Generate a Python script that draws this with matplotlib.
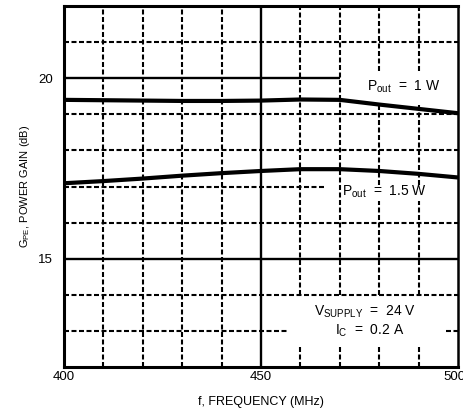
import matplotlib
matplotlib.use("Agg")
import matplotlib.pyplot as plt
from matplotlib import font_manager
from matplotlib.transforms import ScaledTranslation

names = {f.name for f in font_manager.fontManager.ttflist}
fam = ['Liberation Sans Narrow', 'Liberation Sans', 'DejaVu Sans']
fam = [f for f in fam if f in names] or ['DejaVu Sans']
plt.rcParams['font.family'] = fam
plt.rcParams['mathtext.fontset'] = 'custom'
plt.rcParams['mathtext.rm'] = fam[0]
plt.rcParams['mathtext.it'] = fam[0]

# Data
freq = [400, 410, 420, 430, 440, 450, 460, 470, 480, 490, 500]
gain_1w = [19.40, 19.39, 19.38, 19.37, 19.37, 19.38, 19.41, 19.40, 19.27, 19.15, 19.03]
gain_15w = [17.09, 17.15, 17.22, 17.30, 17.37, 17.43, 17.48, 17.48, 17.43, 17.35, 17.25]
xticks = [400, 450, 500]
yticks = [15, 20]

fig = plt.figure(figsize=(4.64, 4.17), dpi=100)
ax = fig.add_axes([64/464, 1-367/417, (458-64)/464, (367-6)/417])
ax.set_xlim(400, 500)
ax.set_ylim(12, 22)

dash = dict(color='black', lw=1.5, linestyle=(0, (2.4, 1.2)), zorder=1)
solid = dict(color='black', lw=1.7, zorder=1)

# horizontal dashed grid lines (with gaps around labels)
for y in [21, 19, 18, 16, 14]:
    ax.hlines(y, 400, 500, **dash)
ax.hlines(17, 400, 466, **dash)
ax.hlines(13, 400, 457, **dash)
ax.hlines(13, 497, 500, **dash)
# solid horizontal
ax.hlines(20, 400, 470, **solid)
ax.hlines(15, 400, 500, **solid)

# vertical dashed lines
for x in [410, 420, 430, 440]:
    ax.vlines(x, 12, 22, **dash)
ax.vlines(450, 12, 22, **solid)
for x in [460, 470, 480, 490]:
    ax.vlines(x, 12, 12.6, **dash)
for x in [460, 470]:
    ax.vlines(x, 14, 22, **dash)
for x in [480, 490]:
    ax.vlines(x, 14, 16.6, **dash)
    ax.vlines(x, 17.05, 19.3, **dash)
    ax.vlines(x, 20.2, 22, **dash)

# curves
ax.plot(freq, gain_1w, color='black', lw=3.0, solid_capstyle='butt', zorder=3)
ax.plot(freq, gain_15w, color='black', lw=3.0, solid_capstyle='butt', zorder=3)

fs = 10
ax.text(477, 19.75, r"P$_{\mathregular{out}}$  =  1 W", fontsize=fs, ha='left', va='center')
ax.text(470.5, 16.84, r"P$_{\mathregular{out}}$  =  1.5 W", fontsize=fs, ha='left', va='center')
ax.text(463.5, 13.54, r"V$_{\mathregular{SUPPLY}}$  =  24 V", fontsize=fs, ha='left', va='center')
ax.text(468.8, 13.0, r"I$_{\mathregular{C}}$  =  0.2 A", fontsize=fs, ha='left', va='center')

ax.set_xticks(xticks)
ax.set_yticks(yticks)
ax.set_xticklabels([str(v) for v in xticks])
ax.set_yticklabels([str(v) for v in yticks])
ax.tick_params(axis='both', length=0, labelsize=9.5)
ax.tick_params(axis='y', pad=8)
ax.tick_params(axis='x', pad=3)
last = ax.get_xticklabels()[-1]
last.set_transform(last.get_transform() + ScaledTranslation(-4/100, 0, fig.dpi_scale_trans))

for s in ax.spines.values():
    s.set_linewidth(2.2)
ax.spines['right'].set_linewidth(1.8)

ax.set_xlabel("f, FREQUENCY (MHz)", fontsize=9, labelpad=9)
ax.set_ylabel(r"G$_{\mathregular{PE}}$, POWER GAIN (dB)", fontsize=8, labelpad=4)

fig.savefig("out.png", dpi=100)
